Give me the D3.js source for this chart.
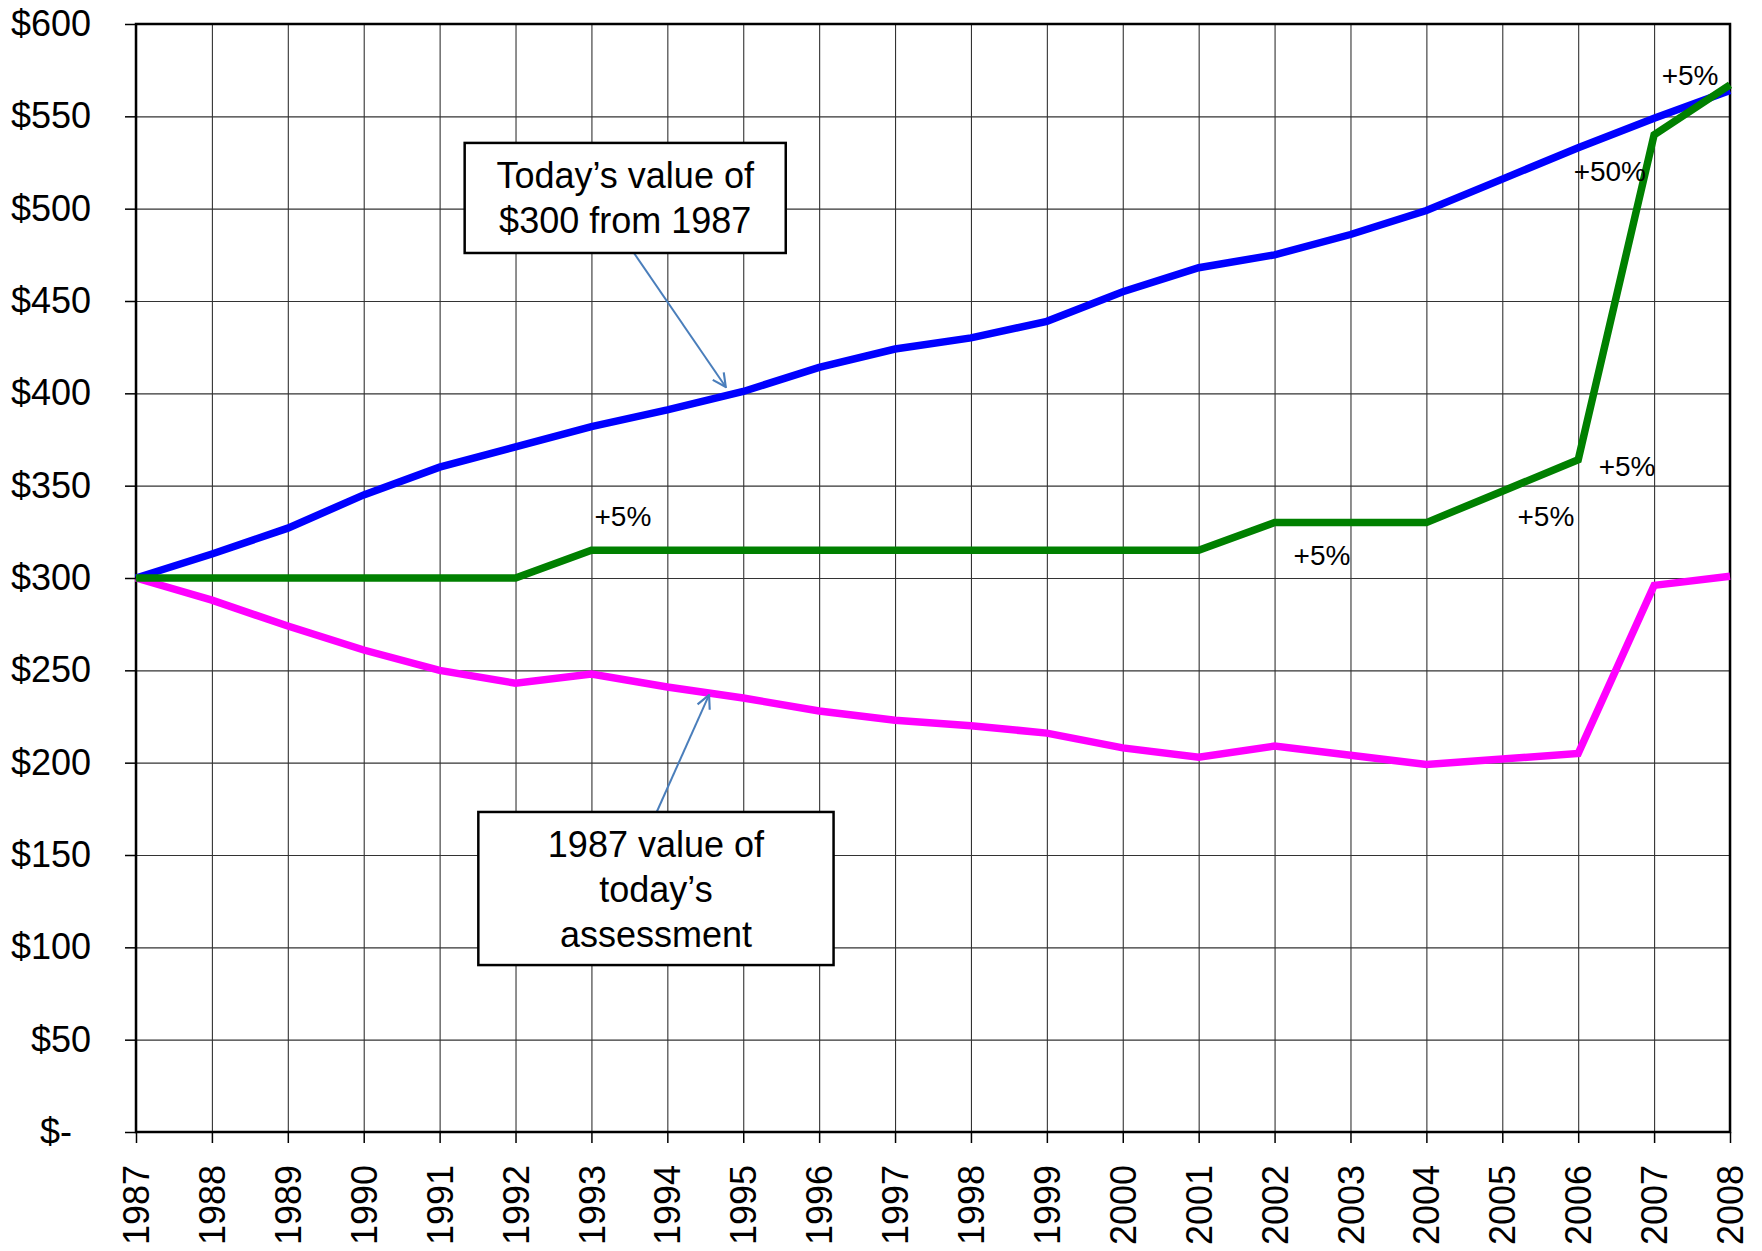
<!doctype html>
<html>
    <head>
        <title>Today's value vs 1987 value</title>
        <script src="https://d3js.org/d3.v7.min.js"></script>
        <style type="text/css">
            body { margin: 0; background: #fff; }
            svg text { font-family: "Liberation Sans", Arial, sans-serif; fill: #000; }
            .grid line { stroke: #333; stroke-width: 1.1; }
            .grid path { display: none; }
            .axis path { display: none; }
            .axis line { stroke: #000; stroke-width: 1.5; }
            .axis text { font-size: 36px; }
        </style>
    </head>
    <body>
        <script>
        // data
        var years = [1987, 1988, 1989, 1990, 1991, 1992, 1993, 1994, 1995, 1996, 1997,
                     1998, 1999, 2000, 2001, 2002, 2003, 2004, 2005, 2006, 2007, 2008];
        var todaysValue = [300, 313, 327, 345, 360, 371, 382, 391, 401, 414, 424,
                           430, 439, 455, 468, 475, 486, 499, 516, 533, 549, 564];
        var assessment = [300, 300, 300, 300, 300, 300, 315, 315, 315, 315, 315,
                          315, 315, 315, 315, 330, 330, 330, 347, 364, 540, 567];
        var value1987 = [300, 288, 274, 261, 250, 243, 248, 241, 235, 228, 223,
                         220, 216, 208, 203, 209, 204, 199, 202, 205, 296, 301];
        var yTicks = [0, 50, 100, 150, 200, 250, 300, 350, 400, 450, 500, 550, 600];

        var pctLabels = [
            {text: "+5%",  year: 1993.04, value: 328},
            {text: "+5%",  year: 2002.25, value: 307},
            {text: "+5%",  year: 2005.2,  value: 328},
            {text: "+5%",  year: 2006.27, value: 355},
            {text: "+50%", year: 2005.94, value: 515},
            {text: "+5%",  year: 2007.1,  value: 567}
        ];
        var callouts = [
            {lines: ["Today\u2019s value of", "$300 from 1987"],
             x0: 1991.33, x1: 1995.56, top: 535.6, bottom: 476.0,
             tail: 1993.56, tip: [1994.77, 403.4]},
            {lines: ["1987 value of", "today\u2019s", "assessment"],
             x0: 1991.51, x1: 1996.19, top: 173.3, bottom: 90.4,
             tail: 1993.86, tip: [1994.55, 236.7]}
        ];

        var W = 1762, H = 1251;
        var margin = {left: 136, top: 24, right: 32, bottom: 119};
        var w = W - margin.left - margin.right;
        var h = H - margin.top - margin.bottom;

        var svg = d3.select("body").append("svg").attr("width", W).attr("height", H);
        var g = svg.append("g").attr("transform", "translate(" + margin.left + "," + margin.top + ")");

        var x = d3.scaleLinear().domain([years[0], years[years.length - 1]]).range([0, w]);
        var y = d3.scaleLinear().domain([0, 600]).range([h, 0]);

        // grid
        g.append("g").attr("class", "grid")
            .call(d3.axisLeft(y).tickValues(yTicks).tickSize(-w).tickFormat(""));
        g.append("g").attr("class", "grid")
            .call(d3.axisBottom(x).tickValues(years).tickSize(h).tickFormat(""));

        // axes with outside ticks
        var yAxis = g.append("g").attr("class", "axis")
            .call(d3.axisLeft(y).tickValues(yTicks).tickSize(11).tickPadding(34)
                .tickFormat(function(d) { return d === 0 ? "$-" : "$" + d; }));
        yAxis.selectAll("text").filter(function(d) { return d === 0; }).attr("x", -64);

        var xAxis = g.append("g").attr("class", "axis")
            .attr("transform", "translate(0," + h + ")")
            .call(d3.axisBottom(x).tickValues(years).tickSize(11).tickFormat(d3.format("d")));
        xAxis.selectAll("text")
            .attr("transform", "rotate(-90)")
            .attr("x", -33).attr("y", 0).attr("dy", "0.35em")
            .style("text-anchor", "end");

        // frame
        g.append("rect").attr("x", 0).attr("y", 0).attr("width", w).attr("height", h)
            .attr("fill", "none").attr("stroke", "#000").attr("stroke-width", 2.5);

        // series
        var line = d3.line()
            .x(function(d) { return x(d[0]); })
            .y(function(d) { return y(d[1]); });
        var series = [
            {values: todaysValue, color: "#0000ff"},
            {values: value1987, color: "#ff00ff"},
            {values: assessment, color: "#008000"}
        ];
        series.forEach(function(s) {
            g.append("path")
                .attr("d", line(years.map(function(yr, i) { return [yr, s.values[i]]; })))
                .attr("fill", "none")
                .attr("stroke", s.color)
                .attr("stroke-width", 7.5)
                .attr("stroke-linejoin", "miter");
        });

        // percentage labels
        g.selectAll("text.pct").data(pctLabels).enter().append("text")
            .attr("class", "pct")
            .attr("x", function(d) { return x(d.year); })
            .attr("y", function(d) { return y(d.value); })
            .attr("font-size", "28px")
            .text(function(d) { return d.text; });

        // callouts
        svg.append("defs").append("marker")
            .attr("id", "arrow")
            .attr("viewBox", "0 0 12 12")
            .attr("refX", 11).attr("refY", 6)
            .attr("markerWidth", 16).attr("markerHeight", 16)
            .attr("markerUnits", "userSpaceOnUse")
            .attr("orient", "auto")
            .append("path")
                .attr("d", "M1,1 L11,6 L1,11")
                .attr("fill", "none")
                .attr("stroke", "#4a7ebb")
                .attr("stroke-width", 1.6);

        callouts.forEach(function(c) {
            var bx = x(c.x0), by = y(c.top);
            var bw = x(c.x1) - bx, bh = y(c.bottom) - by;
            g.append("line")
                .attr("x1", x(c.tail)).attr("y1", c.tip[1] > c.top ? by : by + bh)
                .attr("x2", x(c.tip[0])).attr("y2", y(c.tip[1]))
                .attr("stroke", "#4a7ebb")
                .attr("stroke-width", 2)
                .attr("marker-end", "url(#arrow)");
            g.append("rect")
                .attr("x", bx).attr("y", by).attr("width", bw).attr("height", bh)
                .attr("fill", "#fff").attr("stroke", "#000").attr("stroke-width", 2.5);
            g.append("text")
                .attr("text-anchor", "middle")
                .attr("font-size", "36px")
                .selectAll("tspan").data(c.lines).enter().append("tspan")
                    .attr("x", bx + bw / 2)
                    .attr("y", function(d, i) { return by + 45 + i * 45; })
                    .text(function(d) { return d; });
        });
        </script>
    </body>
</html>
